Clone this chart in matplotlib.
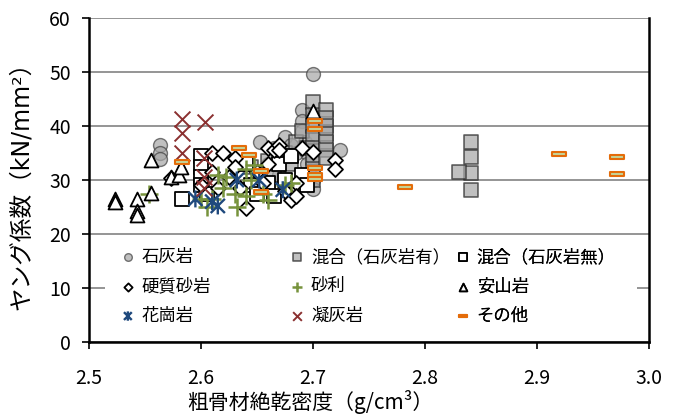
import matplotlib
matplotlib.use("Agg")
import matplotlib.pyplot as plt
from matplotlib.path import Path
from matplotlib.patches import Rectangle

plt.rcParams['font.family'] = ['Noto Sans CJK JP', 'DejaVu Sans']

# ---- data: coarse aggregate oven-dry density (g/cm3) vs Young's modulus (kN/mm2)
limestone_x = [2.563, 2.563, 2.563, 2.653, 2.660, 2.665, 2.675, 2.680, 2.685,
               2.690, 2.690, 2.690, 2.693, 2.695, 2.695, 2.697,
               2.700, 2.700, 2.700, 2.700, 2.700, 2.700, 2.700, 2.700, 2.700,
               2.724, 2.670, 2.675]
limestone_y = [36.5, 35.0, 33.8, 37.0, 33.0, 36.0, 38.0, 36.5, 35.0,
               43.0, 41.0, 39.0, 37.0, 35.0, 33.0, 31.0,
               49.6, 42.0, 40.0, 38.0, 36.0, 34.0, 32.0, 30.0, 28.3,
               35.5, 31.0, 30.0]

mixed_ls_x = [2.645, 2.660, 2.665, 2.675, 2.680, 2.685, 2.690, 2.695,
              2.700, 2.700, 2.700, 2.700, 2.700, 2.700, 2.700, 2.700,
              2.712, 2.712, 2.712, 2.712, 2.712, 2.712, 2.712,
              2.841, 2.841, 2.841, 2.830, 2.841]
mixed_ls_y = [32.5, 33.5, 31.0, 35.0, 33.0, 37.0, 39.0, 36.0,
              44.5, 42.0, 40.0, 38.0, 36.0, 34.0, 32.0, 30.0,
              43.0, 41.5, 40.0, 38.5, 37.0, 35.5, 34.0,
              37.0, 34.2, 31.3, 31.5, 28.1]

mixed_nols_x = [2.583, 2.600, 2.600, 2.600, 2.600, 2.605, 2.640, 2.645,
                2.650, 2.660, 2.665, 2.670, 2.675, 2.680, 2.690, 2.695]
mixed_nols_y = [26.5, 34.5, 32.5, 30.5, 29.0, 27.5, 33.0, 29.0,
                27.5, 29.5, 27.0, 33.0, 30.0, 34.5, 31.0, 29.0]

sandstone_x = [2.573, 2.600, 2.610, 2.620, 2.630, 2.630, 2.625, 2.635, 2.640,
               2.650, 2.655, 2.660, 2.660, 2.665, 2.670, 2.670, 2.675, 2.680,
               2.685, 2.685, 2.690, 2.700, 2.720, 2.720, 2.610, 2.615]
sandstone_y = [30.3, 29.0, 35.0, 35.0, 34.0, 32.5, 30.5, 28.5, 24.8,
               31.5, 29.5, 36.0, 33.0, 35.5, 36.5, 35.5, 28.0, 26.3,
               29.4, 27.0, 35.9, 35.2, 33.7, 32.0, 31.5, 28.5]

gravel_x = [2.554, 2.605, 2.610, 2.615, 2.620, 2.622, 2.630, 2.632, 2.640,
            2.640, 2.647, 2.655, 2.660, 2.675, 2.680, 2.600, 2.645]
gravel_y = [27.5, 25.0, 26.5, 31.0, 28.5, 30.5, 27.5, 25.0, 27.0,
            32.0, 32.8, 27.5, 26.3, 29.0, 29.4, 26.5, 30.0]

andesite_x = [2.523, 2.523, 2.543, 2.543, 2.543, 2.555, 2.555, 2.573, 2.580,
              2.582, 2.700]
andesite_y = [26.5, 25.9, 26.5, 24.3, 23.6, 27.6, 33.7, 30.5, 31.0,
              32.4, 42.8]

granite_x = [2.595, 2.610, 2.615, 2.632, 2.652, 2.673]
granite_y = [26.5, 26.0, 25.2, 30.0, 30.0, 28.2]

tuff_x = [2.583, 2.583, 2.583, 2.604, 2.603, 2.603, 2.603]
tuff_y = [41.3, 38.7, 35.0, 40.8, 34.0, 30.6, 28.5]

other_x = [2.583, 2.634, 2.643, 2.654, 2.654, 2.702, 2.702, 2.702, 2.702,
           2.702, 2.782, 2.920, 2.971, 2.971]
other_y = [33.4, 35.9, 34.6, 31.6, 27.8, 41.0, 39.4, 32.3, 31.0,
           30.2, 28.7, 34.8, 34.3, 31.1]

x_ticks = [2.5, 2.6, 2.7, 2.8, 2.9, 3.0]
y_ticks = [0, 10, 20, 30, 40, 50, 60]

# ---- custom marker shapes
star_path = Path([(-1, -1), (1, 1), (-1, 1), (1, -1), (0, -1.2), (0, 1.2)],
                 [Path.MOVETO, Path.LINETO, Path.MOVETO, Path.LINETO,
                  Path.MOVETO, Path.LINETO])
dash_path = Path([(-1, -0.32), (1, -0.32), (1, 0.32), (-1, 0.32), (-1, -0.32)],
                 [Path.MOVETO, Path.LINETO, Path.LINETO, Path.LINETO,
                  Path.CLOSEPOLY])

fig = plt.figure(figsize=(6.78, 4.20), dpi=100)
ax = fig.add_axes([89 / 678, 78 / 420, 560 / 678, 324 / 420])

S = 100
series = [
    dict(x=limestone_x, y=limestone_y, label='石灰岩', marker='o', s=S,
         fc='#a6a6a6', ec='#404040', lw=1.0, alpha=0.7),
    dict(x=mixed_ls_x, y=mixed_ls_y, label='混合（石灰岩有）', marker='s', s=S,
         fc='#a6a6a6', ec='#262626', lw=1.2, alpha=0.7),
    dict(x=mixed_nols_x, y=mixed_nols_y, label='混合（石灰岩無）', marker='s', s=S,
         fc='white', ec='black', lw=1.3, alpha=1.0),
    dict(x=sandstone_x, y=sandstone_y, label='硬質砂岩', marker='D', s=58,
         fc='white', ec='black', lw=1.3, alpha=1.0),
    dict(x=gravel_x, y=gravel_y, label='砂利', marker='+', s=170,
         fc='#77933c', ec='#77933c', lw=1.8, alpha=1.0),
    dict(x=andesite_x, y=andesite_y, label='安山岩', marker='^', s=S,
         fc='white', ec='black', lw=1.3, alpha=1.0),
    dict(x=granite_x, y=granite_y, label='花崗岩', marker=star_path, s=150,
         fc='none', ec='#1f497d', lw=1.7, alpha=1.0),
    dict(x=tuff_x, y=tuff_y, label='凝灰岩', marker='x', s=130,
         fc='#8b3030', ec='#8b3030', lw=1.4, alpha=1.0),
    dict(x=other_x, y=other_y, label='その他', marker=dash_path, s=110,
         fc='#c3d69b', ec='#e46c0a', lw=1.5, alpha=1.0),
]

handles = []
for i, d in enumerate(series):
    if d['marker'] in ('+', 'x'):
        sc = ax.scatter(d['x'], d['y'], marker=d['marker'], s=d['s'],
                        c=d['ec'], linewidths=d['lw'], alpha=d['alpha'],
                        zorder=3 + i, label=d['label'])
    else:
        sc = ax.scatter(d['x'], d['y'], marker=d['marker'], s=d['s'],
                        facecolors=d['fc'], edgecolors=d['ec'],
                        linewidths=d['lw'], alpha=d['alpha'],
                        zorder=3 + i, label=d['label'])
    handles.append(sc)

ax.set_xlim(2.5, 3.0)
ax.set_ylim(0, 60)
ax.set_xticks(x_ticks)
ax.set_xticklabels([f'{v:.1f}' for v in x_ticks], fontsize=14)
ax.set_yticks(y_ticks)
ax.set_yticklabels([str(v) for v in y_ticks], fontsize=14)
ax.tick_params(direction='out', length=5, width=1.2, color='black')
ax.tick_params(axis='x', pad=14)
ax.tick_params(axis='y', pad=8)
ax.grid(axis='y', color='#8c8c8c', linewidth=1.3, zorder=0)
ax.set_axisbelow(True)
for side in ('left', 'bottom', 'right'):
    ax.spines[side].set_linewidth(1.8)
    ax.spines[side].set_color('black')
ax.spines['top'].set_visible(False)

ax.set_xlabel('粗骨材絶乾密度（g/cm³）', fontsize=15)
ax.xaxis.set_label_coords(0.395, -0.148)
ax.set_ylabel('ヤング係数（kN/mm²）', fontsize=17,
              family=['DejaVu Sans', 'Noto Sans CJK JP'])
ax.yaxis.set_label_coords(-0.1, 0.5)

# white panel behind the legend block
ax.add_patch(Rectangle((0.029, 0.012), 0.95, 0.305, transform=ax.transAxes,
                       facecolor='white', edgecolor='none', zorder=15))

# three legend columns, each anchored at its own x position
col_members = [[0, 3, 6], [1, 4, 7], [2, 5, 8]]
col_x = [0.057, 0.359, 0.655]
for members, cx in zip(col_members, col_x):
    leg = ax.legend([handles[k] for k in members],
                    [series[k]['label'] for k in members],
                    loc='upper left', bbox_to_anchor=(cx, 0.29),
                    frameon=False, fontsize=12.5, markerscale=0.55,
                    handlelength=0.8, handletextpad=0.4,
                    borderpad=0, borderaxespad=0, labelspacing=0.65)
    leg.set_zorder(20)
    ax.add_artist(leg)

fig.savefig('out.png', dpi=100)
